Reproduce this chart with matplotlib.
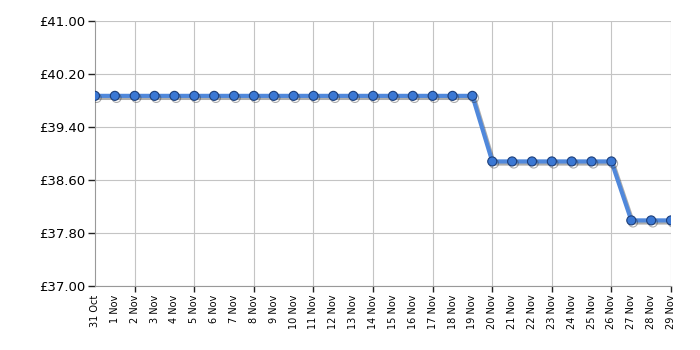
import matplotlib
matplotlib.use('Agg')
import matplotlib.pyplot as plt
import matplotlib.patheffects as pe

# day labels and prices
days = ['31 Oct'] + ['%d Nov' % d for d in range(1, 30)]
prices = [39.87] * 20 + [38.88] * 7 + [37.99] * 3
yticks = [37.0, 37.8, 38.6, 39.4, 40.2, 41.0]

fig = plt.figure(figsize=(7, 3.5), dpi=100)
ax = fig.add_axes([0.1357, 0.1829, 0.8229, 0.7571])

x = list(range(len(days)))
shadow = [pe.SimpleLineShadow(offset=(1.2, -1.5), shadow_color='#333333', alpha=0.4), pe.Normal()]
ax.plot(x, prices, color='#5088db', lw=3, zorder=3, path_effects=shadow)
ax.plot(x, prices, ls='none', marker='o', ms=6.5, mfc='#3b78d4', mec='#1d3f7a', mew=0.8, zorder=4,
        path_effects=shadow)

ax.set_xlim(0, len(days) - 1)
ax.set_ylim(37, 41)
ax.set_yticks(yticks)
ax.set_yticklabels(['£%.2f' % v for v in yticks])

# labels every day, ticks + gridlines every 3 days
ax.xaxis.remove_overlapping_locs = False
ax.set_xticks(x)
ax.set_xticklabels(days, rotation=90, fontsize=7)
ax.tick_params(axis='x', which='major', length=0, pad=6)
ax.set_xticks([i for i in x if i % 3 == 2], minor=True)
ax.tick_params(axis='x', which='minor', length=4, width=1, color='#222222')
ax.tick_params(axis='y', length=5, width=1, color='#222222', labelsize=9.5, pad=2)

ax.grid(True, which='minor', axis='x', color='#c4c4c4', lw=0.8)
ax.grid(True, which='major', axis='y', color='#c4c4c4', lw=0.8)
for s in ['top', 'right']:
    ax.spines[s].set_visible(False)
for s in ['left', 'bottom']:
    ax.spines[s].set_color('#999999')

fig.savefig('out.png', dpi=100)
